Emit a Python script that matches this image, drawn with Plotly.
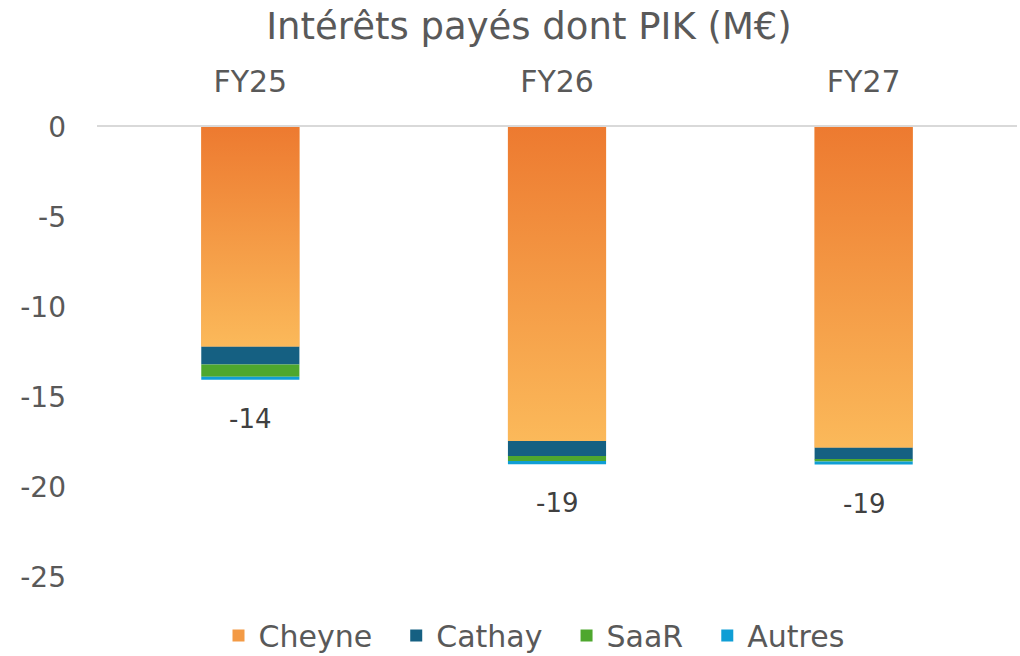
import plotly.graph_objects as go

categories = ["FY25", "FY26", "FY27"]
series_names = ["Cheyne", "Cathay", "SaaR", "Autres"]
cheyne = [-12.2, -17.45, -17.8]
cathay = [-1.0, -0.83, -0.67]
saar = [-0.67, -0.28, -0.11]
autres = [-0.17, -0.17, -0.17]
total_labels = ["-14", "-19", "-19"]
y_ticks = [0, -5, -10, -15, -20, -25]

FONT = "DejaVu Sans"
TXT = "#595959"
BAR_W = 0.32
PAD = "\u00a0\u00a0"

x_pos = list(range(len(categories)))
fig = go.Figure()

# Cheyne as a real bar (legend + base colour), with gradient overlay on top
fig.add_trace(go.Bar(
    x=x_pos, y=cheyne, base=[0] * len(cheyne), width=BAR_W,
    name=series_names[0] + PAD,
    marker=dict(color="#F39A45", line=dict(width=0)), legendgroup="Cheyne",
))
for i, v in enumerate(cheyne):
    x0, x1 = x_pos[i] - BAR_W / 2, x_pos[i] + BAR_W / 2
    fig.add_trace(go.Scatter(
        x=[x0, x1, x1, x0, x0], y=[0, 0, v, v, 0],
        mode="lines", fill="toself", line=dict(width=0, color="#F29A45"),
        fillgradient=dict(type="vertical",
                          colorscale=[[0, "#FBB95A"], [1, "#ED7A30"]]),
        name="Cheyne", legendgroup="Cheyne", showlegend=False,
        hoverinfo="skip",
    ))

base1 = [a for a in cheyne]
base2 = [a + b for a, b in zip(cheyne, cathay)]
base3 = [a + b + c for a, b, c in zip(cheyne, cathay, saar)]

for name, vals, base, col, pad in [
    (series_names[1], cathay, base1, "#156082", PAD),
    (series_names[2], saar, base2, "#4EA72E", PAD),
    (series_names[3], autres, base3, "#0F9ED5", ""),
]:
    fig.add_trace(go.Bar(
        x=x_pos, y=vals, base=base, width=BAR_W, name=name + pad,
        marker=dict(color=col, line=dict(width=0)),
    ))

totals = [a + b + c + d for a, b, c, d in zip(cheyne, cathay, saar, autres)]
for i, t in enumerate(totals):
    fig.add_annotation(x=x_pos[i], y=t, text=total_labels[i], showarrow=False,
                       yanchor="middle", yshift=-39,
                       font=dict(family=FONT, size=26, color="#404040"))

fig.update_layout(
    width=1020, height=656,
    margin=dict(l=97, r=3, t=127, b=79, autoexpand=False),
    paper_bgcolor="white", plot_bgcolor="white",
    barmode="overlay",
    title=dict(text="Intérêts payés dont PIK (M€)", x=0.5186, xref="container",
               xanchor="center", y=0.96, yref="container", yanchor="middle",
               font=dict(family=FONT, size=37, color=TXT)),
    font=dict(family=FONT, color=TXT),
    showlegend=True,
    legend=dict(orientation="h", x=0.475, xanchor="center", y=-0.13,
                yanchor="middle", font=dict(family=FONT, size=30, color=TXT),
                traceorder="normal"),
    xaxis=dict(side="top", range=[-0.5, 2.5], tickvals=x_pos, ticktext=categories,
               showgrid=False, zeroline=False, showline=True, automargin=False,
               linecolor="#D9D9D9", linewidth=1.5, ticks="",
               ticklabelstandoff=21,
               tickfont=dict(family=FONT, size=30, color=TXT)),
    yaxis=dict(range=[-25, 0], tickvals=y_ticks, ticktext=[str(v) for v in y_ticks],
               showgrid=False, zeroline=False, showline=False, ticks="",
               ticklabelstandoff=30, automargin=False,
               tickfont=dict(family=FONT, size=28, color=TXT)),
)

fig.write_html("out.html", config={"displayModeBar": False},
               post_script="document.body.style.margin='0';")
